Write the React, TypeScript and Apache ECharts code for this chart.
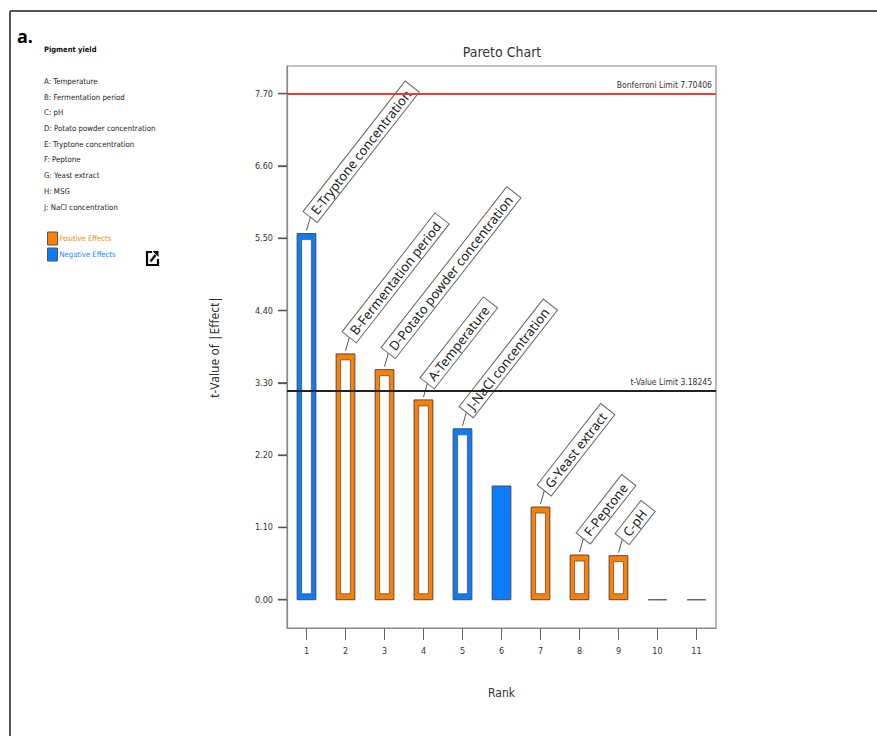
import React, { useEffect, useRef } from 'react';
import * as echarts from 'echarts';

// ---------- data ----------
const ranks = ['1', '2', '3', '4', '5', '6', '7', '8', '9', '10', '11'];
const tValues = [5.57, 3.74, 3.5, 3.04, 2.6, 1.73, 1.41, 0.68, 0.67, 0, 0];
const effectSign = ['neg', 'pos', 'pos', 'pos', 'neg', 'neg', 'pos', 'pos', 'pos', 'none', 'none'];
const hollowBars = [true, true, true, true, true, false, true, true, true, false, false];
const termLabels = [
  'E-Tryptone concentration',
  'B-Fermentation period',
  'D-Potato powder concentration',
  'A-Temperature',
  'J-NaCl concentration',
  '',
  'G-Yeast extract',
  'F-Peptone',
  'C-pH',
  '',
  '',
];
const yTicks = [0, 1.1, 2.2, 3.3, 4.4, 5.5, 6.6, 7.7];
const bonferroniLimit = 7.70406;
const tValueLimit = 3.18245;
const factorList = [
  'A: Temperature',
  'B: Fermentation period',
  'C: pH',
  'D: Potato powder concentration',
  'E: Tryptone concentration',
  'F: Peptone',
  'G: Yeast extract',
  'H: MSG',
  'J: NaCl concentration',
];
const legendItems = ['Positive Effects', 'Negative Effects'];

// ---------- styles ----------
const ORANGE = '#ff8000';
const BLUE = '#0a7cff';
const NARROW = "'Liberation Sans Narrow', 'DejaVu Sans Condensed', 'Noto Sans', sans-serif";
const SANS = "'Noto Sans', 'Open Sans', sans-serif";
const ANGLE = (52 * Math.PI) / 180;
const GRID_LEFT = 287;

export default function App() {
  const ref = useRef<HTMLDivElement>(null);

  useEffect(() => {
    if (!ref.current) return;
    const chart = echarts.init(ref.current, null, { renderer: 'svg' });

    const data = tValues.map((v, i) => [i, v]);

    const barRender = (params: any, api: any) => {
      const i = api.value(0);
      const v = api.value(1);
      const top = api.coord([i, v]);
      const base = api.coord([i, 0]);
      const w = api.size([1, 0])[0] * 0.48;
      const x0 = top[0] - w / 2;
      const h = base[1] - top[1];
      if (h < 1) {
        return {
          type: 'line',
          shape: { x1: x0, y1: base[1], x2: x0 + w, y2: base[1] },
          style: { stroke: '#666', lineWidth: 1.5 },
        };
      }
      const color = effectSign[i] === 'pos' ? ORANGE : BLUE;
      const children: any[] = [
        {
          type: 'rect',
          shape: { x: x0, y: top[1], width: w, height: h },
          style: { fill: color, stroke: '#4a4a4a', lineWidth: 1 },
        },
      ];
      if (hollowBars[i]) {
        children.push({
          type: 'rect',
          shape: { x: x0 + 4.5, y: top[1] + 6, width: w - 9, height: h - 12 },
          style: { fill: '#ffffff', stroke: '#555', lineWidth: 0.8 },
        });
      }
      return { type: 'group', children };
    };

    const labelRender = (params: any, api: any) => {
      const i = api.value(0);
      const text = termLabels[i];
      if (!text) return null;
      const top = api.coord([i, api.value(1)]);
      const ax = top[0] + 4;
      const ay = top[1] - 17;
      return {
        type: 'group',
        children: [
          {
            type: 'line',
            shape: { x1: top[0], y1: top[1] - 3, x2: ax, y2: ay },
            style: { stroke: '#555', lineWidth: 1 },
          },
          {
            type: 'text',
            x: ax,
            y: ay,
            rotation: ANGLE,
            style: {
              text,
              x: 0,
              y: 0,
              align: 'left',
              verticalAlign: 'middle',
              fill: '#222',
              fontFamily: SANS,
              fontSize: 13,
              backgroundColor: '#ffffff',
              borderColor: '#666',
              borderWidth: 1,
              padding: [2, 6, 2, 5],
            },
          },
        ],
      };
    };

    const graphic: any[] = [
      // outer frame
      { type: 'line', shape: { x1: 10, y1: 11, x2: 877, y2: 11 }, style: { stroke: '#555', lineWidth: 2 } },
      { type: 'line', shape: { x1: 10, y1: 11, x2: 10, y2: 736 }, style: { stroke: '#555', lineWidth: 2 } },
      {
        type: 'text', x: 17, y: 36,
        style: { text: 'a.', fontFamily: SANS, fontWeight: 'bold', fontSize: 18, fill: '#000', verticalAlign: 'middle' },
      },
      {
        type: 'text', x: 44, y: 49,
        style: { text: 'Pigment yield', fontFamily: NARROW, fontWeight: 'bold', fontSize: 7.5, fill: '#111', verticalAlign: 'middle' },
      },
      { type: 'text', x: 502, y: 52, style: { text: 'Pareto Chart', fontFamily: NARROW, fontSize: 14, fill: '#333', align: 'center', verticalAlign: 'middle' } },
    ];
    const listY = [81, 97, 112, 128, 144, 159, 175, 191, 207];
    factorList.forEach((t, k) => {
      graphic.push({
        type: 'text', x: 44, y: listY[k],
        style: { text: t, fontFamily: NARROW, fontSize: 7.8, fill: '#222', verticalAlign: 'middle' },
      });
    });
    const legColors = [ORANGE, BLUE];
    const legTextColors = ['#f28a22', '#1f86ff'];
    legendItems.forEach((t, k) => {
      const y = 232 + k * 16;
      graphic.push({ type: 'rect', shape: { x: 47.5, y, width: 10, height: 13 }, style: { fill: legColors[k], stroke: '#555', lineWidth: 1 } });
      graphic.push({
        type: 'text', x: 59.5, y: y + 6.5,
        style: { text: t, fontFamily: NARROW, fontSize: 7.6, fill: legTextColors[k], verticalAlign: 'middle' },
      });
    });
    // export icon
    graphic.push({
      type: 'polyline',
      shape: { points: [[152, 252], [147, 252], [147, 265], [158, 265], [158, 259]] },
      style: { stroke: '#000', lineWidth: 2.2, fill: 'none' },
    });
    graphic.push({ type: 'line', shape: { x1: 150.5, y1: 261.5, x2: 155.5, y2: 255 }, style: { stroke: '#000', lineWidth: 2.2 } });
    graphic.push({ type: 'polygon', shape: { points: [[152.5, 251], [158.5, 251], [158.5, 257]] }, style: { fill: '#000' } });

    chart.setOption({
      animation: false,
      backgroundColor: '#ffffff',
      grid: {
        left: GRID_LEFT,
        top: 66,
        right: 161,
        bottom: 108,
        show: true,
        borderColor: '#888',
        borderWidth: 1.2,
        backgroundColor: 'transparent',
      },
      xAxis: {
        type: 'category',
        data: ranks,
        boundaryGap: true,
        name: 'Rank',
        nameLocation: 'middle',
        nameGap: 59,
        nameTextStyle: { fontFamily: NARROW, fontSize: 12, color: '#333' },
        axisLine: { show: true, onZero: false, lineStyle: { color: '#888', width: 1.2 } },
        axisTick: { show: true, alignWithLabel: true, length: 12, lineStyle: { color: '#666' } },
        axisLabel: { fontFamily: NARROW, fontSize: 9, color: '#333', margin: 18 },
        splitLine: { show: false },
      },
      yAxis: {
        type: 'value',
        min: -0.43,
        max: 8.12,
        name: 't-Value of |Effect|',
        nameLocation: 'middle',
        nameGap: 67,
        nameTextStyle: { fontFamily: SANS, fontSize: 12, color: '#333' },
        axisLine: { show: true, onZero: false, lineStyle: { color: '#888', width: 1.2 } },
        axisTick: { show: true, customValues: yTicks, length: 9, lineStyle: { color: '#555', width: 1.3 } },
        axisLabel: {
          customValues: yTicks,
          formatter: (v: number) => v.toFixed(2),
          fontFamily: NARROW,
          fontSize: 9,
          color: '#333',
          margin: 14,
        },
        splitLine: { show: false },
      },
      series: [
        {
          type: 'custom',
          name: 'bars',
          z: 2,
          renderItem: barRender,
          data,
          encode: { x: 0, y: 1 },
          silent: true,
        },
        {
          type: 'line',
          name: 'limits',
          z: 3,
          data: [],
          symbol: 'none',
          markLine: {
            silent: true,
            symbol: ['none', 'none'],
            animation: false,
            data: [
              {
                yAxis: bonferroniLimit,
                lineStyle: { color: '#ee3a3a', width: 2, type: 'solid' },
                label: {
                  show: true,
                  position: 'insideEndTop',
                  formatter: 'Bonferroni Limit 7.70406',
                  fontFamily: NARROW,
                  fontSize: 8.5,
                  color: '#333',
                  distance: 4,
                },
              },
              {
                yAxis: tValueLimit,
                lineStyle: { color: '#222', width: 2, type: 'solid' },
                label: {
                  show: true,
                  position: 'insideEndTop',
                  formatter: 't-Value Limit 3.18245',
                  fontFamily: NARROW,
                  fontSize: 8.5,
                  color: '#333',
                  distance: 4,
                },
              },
            ],
          },
        },
        {
          type: 'custom',
          name: 'labels',
          z: 4,
          renderItem: labelRender,
          data,
          encode: { x: 0, y: 1 },
          silent: true,
        },
      ],
      graphic,
    });

    // y-axis tick marks placed through the axis scale
    const tickGraphics = yTicks.map((v, k) => {
      const y = Number(chart.convertToPixel({ yAxisIndex: 0 }, v));
      return {
        id: 'ytick' + k,
        type: 'rect',
        z: 10,
        shape: { x: GRID_LEFT - 9, y: y - 0.65, width: 9, height: 1.3 },
        style: { fill: '#555' },
      };
    });
    chart.setOption({ graphic: graphic.concat(tickGraphics) });

    return () => chart.dispose();
  }, []);

  return (
    <div
      ref={ref}
      style={{ position: 'fixed', left: 0, top: 0, width: 877, height: 736, background: '#fff' }}
    />
  );
}
